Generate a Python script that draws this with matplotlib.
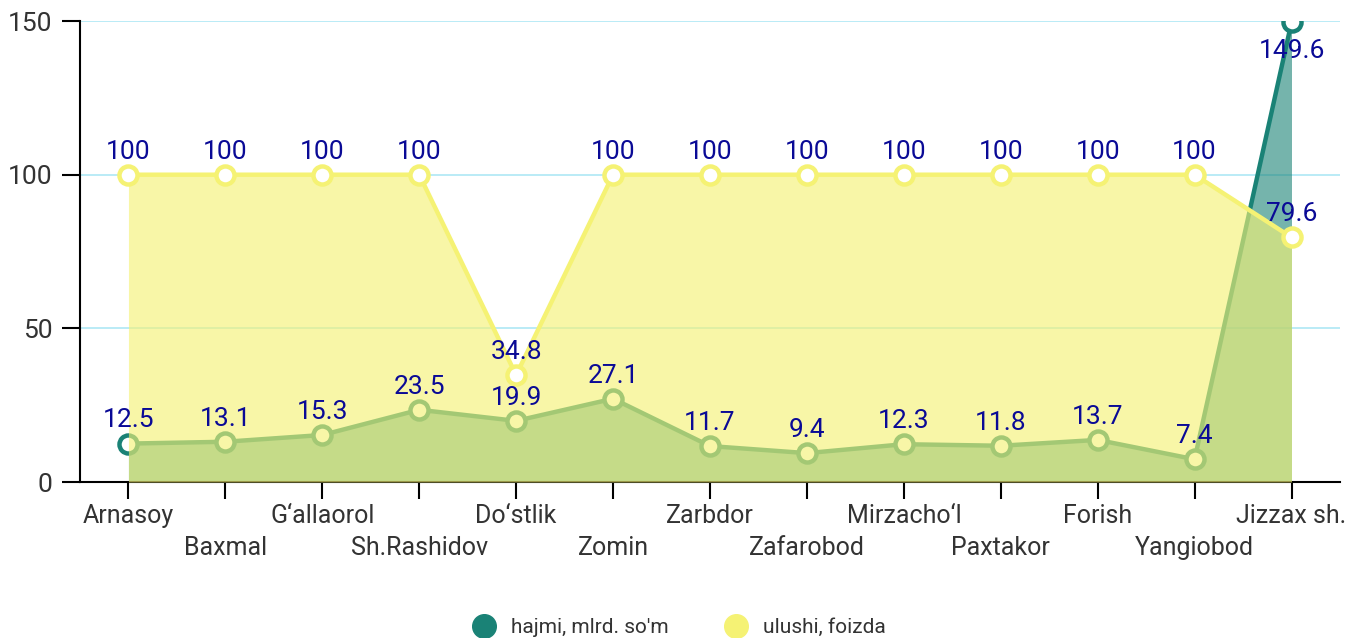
import numpy as np
import matplotlib
matplotlib.use('Agg')
from matplotlib import pyplot as plt
from matplotlib.lines import Line2D

# data
districts = ['Arnasoy', 'Baxmal', 'G\u2018allaorol', 'Sh.Rashidov', 'Do\u2018stlik',
             'Zomin', 'Zarbdor', 'Zafarobod', 'Mirzacho\u2018l', 'Paxtakor',
             'Forish', 'Yangiobod', 'Jizzax sh.']
hajmi = [12.5, 13.1, 15.3, 23.5, 19.9, 27.1, 11.7, 9.4, 12.3, 11.8, 13.7, 7.4, 149.6]
ulushi = [100, 100, 100, 100, 34.8, 100, 100, 100, 100, 100, 100, 100, 79.6]
series_names = ['hajmi, mlrd. so\'m', 'ulushi, foizda']

teal = '#1a8276'
yellow = '#f5f274'
label_col = '#0a0a96'

plt.rcParams['font.family'] = ['Roboto', 'DejaVu Sans']

fig = plt.figure(figsize=(13.49, 6.38), dpi=100)
ax = fig.add_axes([0.0593, 0.2445, 0.9340, 0.7225])
x = np.arange(len(districts))

# teal series (below)
ax.fill_between(x, 0, hajmi, color=teal, alpha=0.6, lw=0, zorder=2)
ax.plot(x, hajmi, color=teal, lw=3.2, marker='o', ms=13, mfc='white',
        mec=teal, mew=3.2, zorder=3)
# yellow series (on top, semi-transparent fill)
ax.fill_between(x, 0, ulushi, color=yellow, alpha=0.63, lw=0, zorder=4)
ax.plot(x, ulushi, color=yellow, lw=3.2, marker='o', ms=13, mfc='white',
        mec=yellow, mew=3.2, zorder=5)

# value labels
lab_kw = dict(textcoords='offset points', ha='center', color=label_col,
              fontsize=19, zorder=6)
for xi, v in zip(x, hajmi):
    if v > 140:
        ax.annotate(f'{v:g}', (xi, v), xytext=(0, -12), va='top', **lab_kw)
    else:
        ax.annotate(f'{v:g}', (xi, v), xytext=(0, 8), va='bottom', **lab_kw)
for xi, v in zip(x, ulushi):
    ax.annotate(f'{v:g}', (xi, v), xytext=(0, 8), va='bottom', **lab_kw)

ax.set_xlim(-0.5, len(districts) - 0.5)
ax.set_ylim(0, 150)
ax.set_yticks([0, 50, 100, 150])
ax.yaxis.grid(True, color='#aee8f5', lw=1.2, zorder=0)
ax.set_axisbelow(True)
for s in ['top', 'right']:
    ax.spines[s].set_visible(False)
ax.spines['left'].set_linewidth(1.5)
ax.spines['bottom'].set_linewidth(1.5)
ax.tick_params(axis='y', length=13, width=1.5, pad=7, labelsize=19,
               labelcolor='#333333')
ax.tick_params(axis='x', length=12, width=1.5, pad=4, labelsize=18,
               labelcolor='#333333')
ax.set_xticks(x)
ax.set_xticklabels(districts)
# staggered labels: every second one on a lower row
for i, tick in enumerate(ax.xaxis.get_major_ticks()):
    if i % 2:
        tick.set_pad(27)

# legend
handles = [Line2D([], [], ls='', marker='o', ms=17, color=teal),
           Line2D([], [], ls='', marker='o', ms=17, color=yellow)]
fig.legend(handles, series_names, loc='lower center', ncol=2, frameon=False,
           bbox_to_anchor=(0.5, -0.028), fontsize=15, handletextpad=0.3,
           columnspacing=2.2, labelcolor='#333333')

plt.savefig('out.png', dpi=100)
